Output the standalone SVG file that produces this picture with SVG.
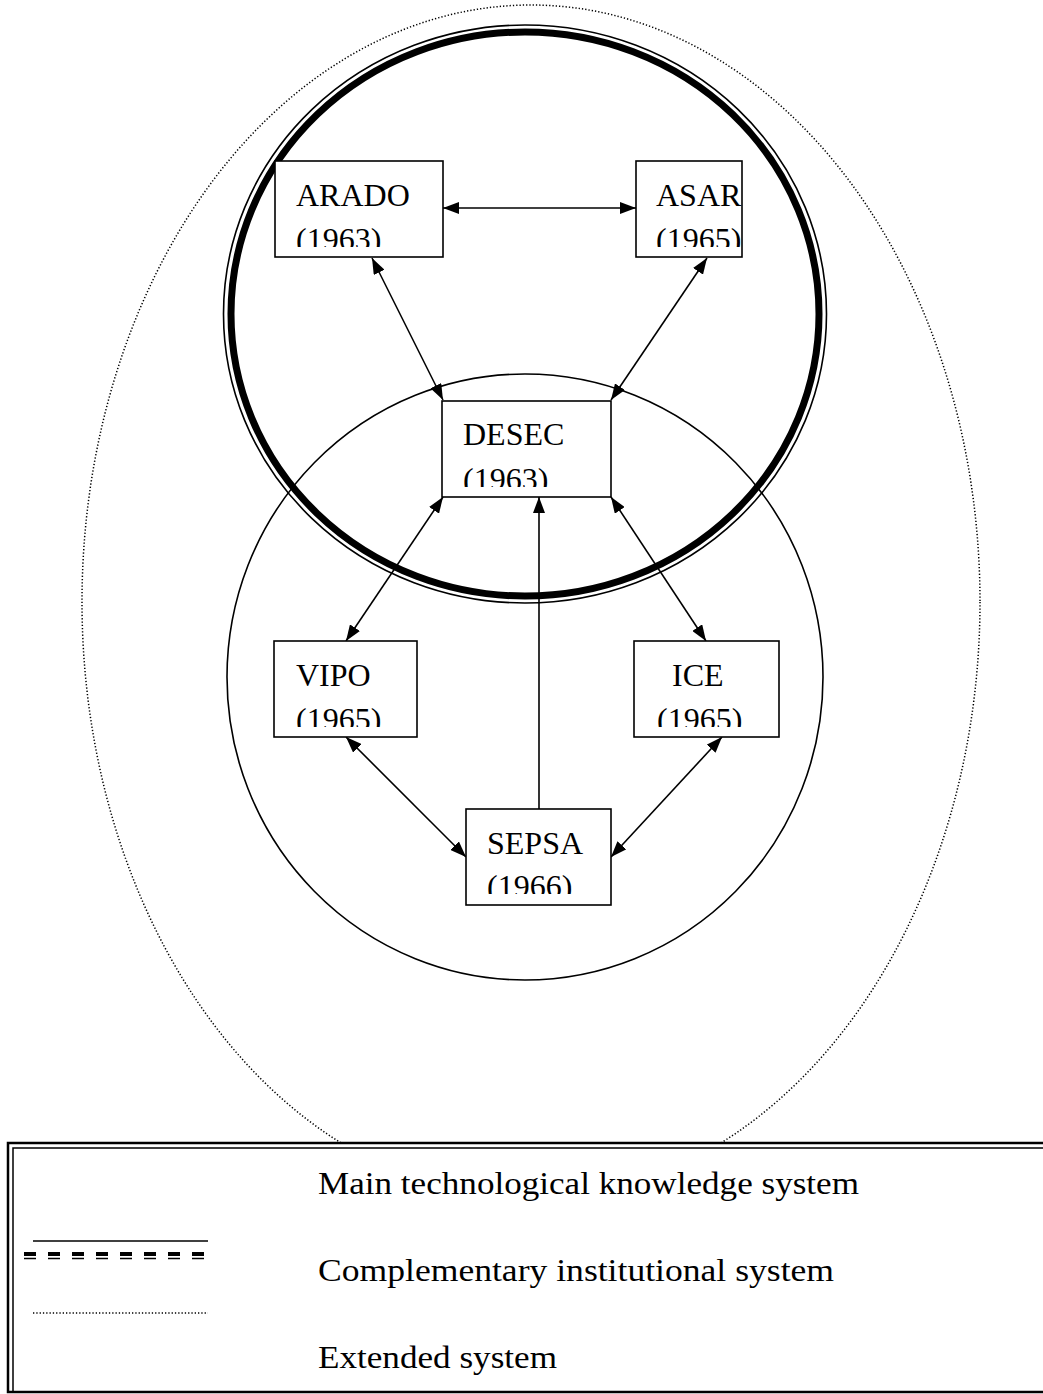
<svg xmlns="http://www.w3.org/2000/svg" width="1043" height="1394" viewBox="0 0 1043 1394">
<style>
.box{fill:#fff;stroke:#000;stroke-width:1.6}
.lbl{font-family:"Liberation Serif","Times New Roman",serif;font-size:32px;fill:#000}
.con{stroke:#000;stroke-width:1.6;fill:none}
.leg{font-family:"Liberation Serif","Times New Roman",serif;font-size:32px;fill:#000}
</style>
<defs>
<marker id="ah" viewBox="0 0 16 12" refX="16" refY="6" markerWidth="16" markerHeight="12" markerUnits="userSpaceOnUse" orient="auto-start-reverse">
<path d="M0,0 L16,6 L0,12 z" fill="#000"/>
</marker>
<clipPath id="cArado"><rect x="275" y="161" width="168" height="86"/></clipPath>
<clipPath id="cAsar"><rect x="636" y="161" width="108" height="86"/></clipPath>
<clipPath id="cDesec"><rect x="442" y="401" width="169" height="86"/></clipPath>
<clipPath id="cVipo"><rect x="274" y="641" width="143" height="86"/></clipPath>
<clipPath id="cIce"><rect x="634" y="641" width="145" height="86"/></clipPath>
<clipPath id="cSepsa"><rect x="466" y="809" width="145" height="85"/></clipPath>
</defs>
<rect width="1043" height="1394" fill="#fff"/>
<g id="systems">
<ellipse id="extended" cx="531" cy="602" rx="449" ry="597" fill="none" stroke="#000" stroke-width="1.5" stroke-dasharray="1.3 2"/>
<ellipse id="complementary" cx="525" cy="677" rx="298" ry="303" fill="none" stroke="#000" stroke-width="1.6"/>
<g id="main-system">
<ellipse cx="525" cy="314" rx="301.5" ry="289" fill="none" stroke="#000" stroke-width="1.6"/>
<ellipse cx="525" cy="314" rx="294" ry="282" fill="none" stroke="#000" stroke-width="7"/>
</g>
</g>
<g id="connectors">
<line class="con" x1="443" y1="208" x2="636" y2="208" marker-start="url(#ah)" marker-end="url(#ah)"/>
<line class="con" x1="372" y1="258" x2="443" y2="400" marker-start="url(#ah)" marker-end="url(#ah)"/>
<line class="con" x1="707" y1="258" x2="611" y2="400" marker-start="url(#ah)" marker-end="url(#ah)"/>
<line class="con" x1="443" y1="497" x2="346" y2="641" marker-start="url(#ah)" marker-end="url(#ah)"/>
<line class="con" x1="611" y1="497" x2="706" y2="641" marker-start="url(#ah)" marker-end="url(#ah)"/>
<line class="con" x1="539" y1="809" x2="539" y2="497" marker-end="url(#ah)"/>
<line class="con" x1="346" y1="737" x2="466" y2="857" marker-start="url(#ah)" marker-end="url(#ah)"/>
<line class="con" x1="722" y1="737" x2="611" y2="857" marker-start="url(#ah)" marker-end="url(#ah)"/>
</g>
<g id="ARADO">
<rect class="box" x="275" y="161" width="168" height="96"/>
<g clip-path="url(#cArado)"><text class="lbl" x="296" y="206">ARADO</text><text class="lbl" x="296" y="250">(1963)</text></g>
</g>
<g id="ASAR">
<rect class="box" x="636" y="161" width="106" height="96"/>
<g clip-path="url(#cAsar)"><text class="lbl" x="656" y="206">ASAR</text><text class="lbl" x="656" y="250">(1965)</text></g>
</g>
<g id="DESEC">
<rect class="box" x="442" y="401" width="169" height="96"/>
<g clip-path="url(#cDesec)"><text class="lbl" x="463" y="445">DESEC</text><text class="lbl" x="463" y="490">(1963)</text></g>
</g>
<g id="VIPO">
<rect class="box" x="274" y="641" width="143" height="96"/>
<g clip-path="url(#cVipo)"><text class="lbl" x="296" y="686">VIPO</text><text class="lbl" x="296" y="730">(1965)</text></g>
</g>
<g id="ICE">
<rect class="box" x="634" y="641" width="145" height="96"/>
<g clip-path="url(#cIce)"><text class="lbl" x="672" y="686">ICE</text><text class="lbl" x="657" y="730">(1965)</text></g>
</g>
<g id="SEPSA">
<rect class="box" x="466" y="809" width="145" height="96"/>
<g clip-path="url(#cSepsa)"><text class="lbl" x="487" y="854">SEPSA</text><text class="lbl" x="487" y="897">(1966)</text></g>
</g>
<g id="legend">
<rect x="8" y="1143" width="1045" height="249" fill="#fff"/>
<path d="M1050 1143 H8 V1392 H1050" fill="none" stroke="#000" stroke-width="2.5"/>
<path d="M1050 1148 H13 V1392" fill="none" stroke="#000" stroke-width="1.5"/>
<line x1="33" y1="1241" x2="208" y2="1241" stroke="#000" stroke-width="1.5"/>
<line x1="24" y1="1254" x2="204" y2="1254" stroke="#000" stroke-width="4" stroke-dasharray="12 12"/>
<line x1="24" y1="1258.5" x2="204" y2="1258.5" stroke="#000" stroke-width="1.3" stroke-dasharray="12 12"/>
<line x1="33" y1="1313" x2="208" y2="1313" stroke="#000" stroke-width="1.3" stroke-dasharray="1.3 2"/>
<text class="leg" x="318" y="1194" textLength="541" lengthAdjust="spacingAndGlyphs">Main technological knowledge system</text>
<text class="leg" x="318" y="1281" textLength="516" lengthAdjust="spacingAndGlyphs">Complementary institutional system</text>
<text class="leg" x="318" y="1368" textLength="239" lengthAdjust="spacingAndGlyphs">Extended system</text>
</g>
</svg>
